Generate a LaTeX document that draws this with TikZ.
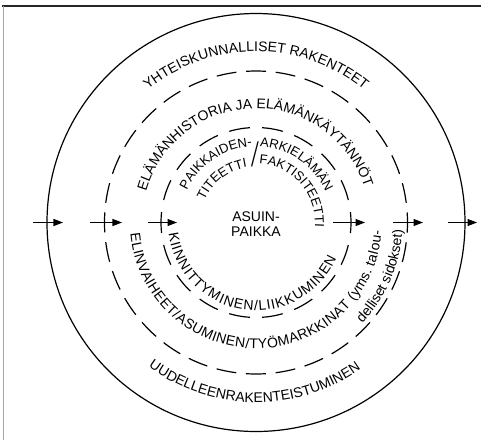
\documentclass[tikz,border=0pt]{standalone}
\usepackage{fontspec}
\setmainfont{Liberation Sans}
\usepackage{graphicx}
\usepackage{tikz}
\usetikzlibrary{arrows.meta, decorations.text}
\newcommand{\ringfont}{\fontsize{14}{15}\selectfont}
\newcommand{\corefont}{\fontsize{13}{14}\selectfont}

\begin{document}
\begin{tikzpicture}[
  x=1pt, y=1pt,
  ring/.style={line width=1.2pt},
  midring/.style={
    ring,
    dash pattern=on 20pt off 9.747pt,
    dash phase=10pt
  },
  corering/.style={
    ring,
    dash pattern=on 21pt off 12.16pt,
    dash phase=10.5pt
  },
  flow/.style={-{Triangle[length=9.5pt, width=7pt]}, line width=1.1pt},
  curved/.style={decorate, decoration={text along path, #1}}
]
\useasboundingbox (-256,-217.5) rectangle (225,222.5);

% Scan frame (top and left edge only).
\draw[line width=2pt, black!85] (-253.5,217) -- (225,217);
\draw[line width=1.8pt, black!35] (-252.5,217) -- (-252.5,-217.5);

% Three rings round the dwelling place.
\coordinate (centre) at (0,0);
\draw[ring] (centre) circle[radius=209pt];
\draw[midring] (centre) circle[radius=151.5pt];
\draw[corering] (centre) circle[radius=95pt];

% Movement across the rings, left to right.
\foreach \name/\xa/\xb in {outL/-223/-193, midL/-166/-134, coreL/-108/-79,
                           coreR/77/109, midR/137/167, outR/192/221} {
  \coordinate (\name-from) at (\xa,0);
  \coordinate (\name-to) at (\xb,0);
  \draw[flow] (\name-from) -- (\name-to);
}

% Centre.
\node[align=center, font=\ringfont, inner sep=0pt] (home) at (0,-2) {ASUIN-\\PAIKKA};

% Outer band.
\path[curved={text={|\ringfont|YHTEISKUNNALLISET RAKENTEET}, text align=center}]
  (175:171pt) arc[start angle=175, end angle=5, radius=171pt];
\path[curved={text={|\ringfont|UUDELLEENRAKENTEISTUMINEN}, text align=center}]
  (200:180pt) arc[start angle=200, end angle=339, radius=180pt];

% Middle band.
\path[curved={text={|\ringfont|ELÄMÄNHISTORIA JA ELÄMÄNKÄYTÄNNÖT}, text align=center}]
  (178:114pt) arc[start angle=178, end angle=4, radius=114pt];
\path[curved={text={|\ringfont|ELINVAIHEET/ASUMINEN/TYÖMARKKINAT (yms. talou-}, text align={fit to path}}]
  (185:126pt) arc[start angle=185, end angle=356, radius=126pt];
\path[curved={text={|\ringfont|delliset sidokset)}, text align=right}]
  (290:146.5pt) arc[start angle=290, end angle=357, radius=146.5pt];

% Inner band.
\path[curved={text={|\corefont|PAIKKAIDEN-}, text align=right}]
  (178:76pt) arc[start angle=178, end angle=93, radius=76pt];
\path[curved={text={|\corefont|TITEETTI}, text align=right}]
  (178:56pt) arc[start angle=178, end angle=99, radius=56pt];
\node[inner sep=0pt, rotate=-7] (split) at (-1,68) {\ringfont\scalebox{1.2}[2.5]{/}};
\path[curved={text={|\corefont|ARKIELÄMÄN}, text align=left}]
  (87:76pt) arc[start angle=87, end angle=0, radius=76pt];
\path[curved={text={|\corefont|FAKTISITEETTI}, text align=left}]
  (87:59pt) arc[start angle=87, end angle=-30, radius=59pt];
\path[curved={text={|\ringfont|KIINNITTYMINEN/LIIKKUMINEN}, text align={fit to path}}]
  (187:88pt) arc[start angle=187, end angle=336, radius=88pt];

\end{tikzpicture}
\end{document}
